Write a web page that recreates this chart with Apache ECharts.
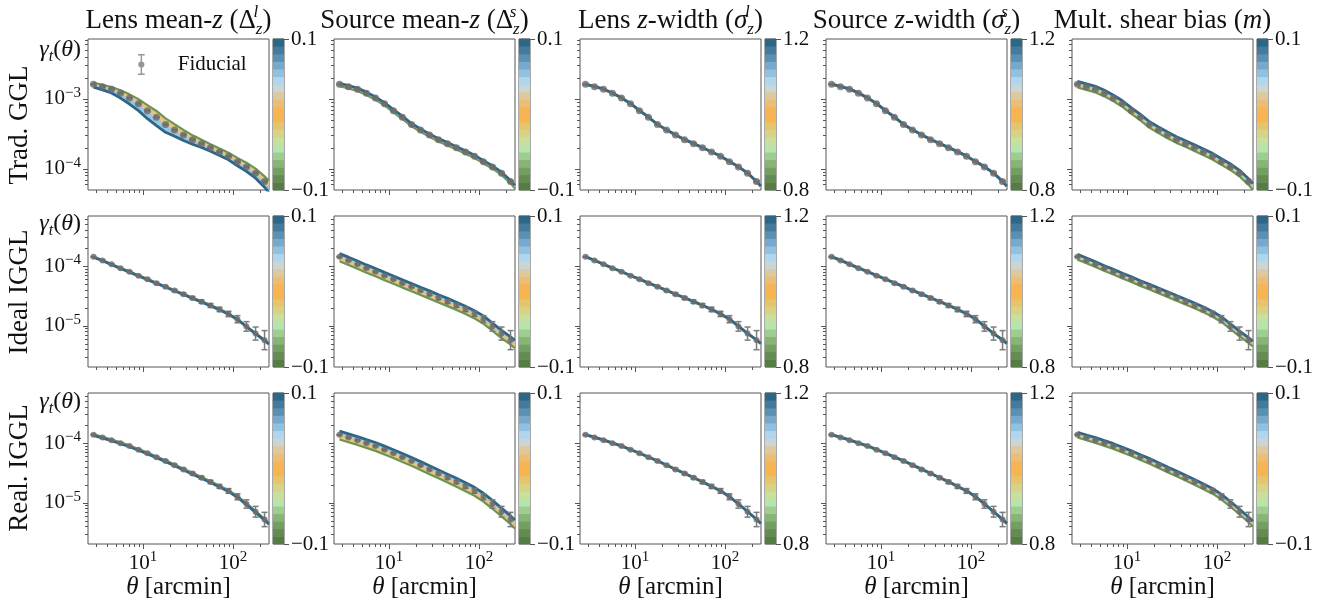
<!DOCTYPE html>
<html>
<head>
<meta charset="utf-8">
<script src="https://cdn.jsdelivr.net/npm/echarts@6/dist/echarts.min.js"></script>
<style>
  html, body { margin: 0; padding: 0; background: #fff; }
  #chart { width: 1332px; height: 603px; }
</style>
</head>
<body>
<div id="chart"></div>
<script>
// ---- data ----
// bin centres of the fiducial data vector [arcmin]
const thetaBins = [2.82, 3.55, 4.47, 5.62, 7.08, 8.91, 11.2, 14.1, 17.8, 22.4, 28.2, 35.5, 44.7, 56.2, 70.8, 89.1, 112, 141, 178, 224];
// model curves are drawn on the bins plus the outer edge
const thetaModel = thetaBins.concat([250]);

// fiducial gamma_t per row (20 bins + value at 250 arcmin)
const fidTradGGL = [1.62e-3, 1.50e-3, 1.38e-3, 1.21e-3, 1.03e-3, 8.57e-4, 6.81e-4, 5.48e-4, 4.30e-4, 3.61e-4,
  3.06e-4, 2.62e-4, 2.30e-4, 2.01e-4, 1.75e-4, 1.52e-4, 1.27e-4, 1.07e-4, 8.69e-5, 6.59e-5, 5.62e-5];
const fidIdealIGGL = [1.43e-4, 1.245e-4, 1.072e-4, 9.23e-5, 8.04e-5, 6.92e-5, 6.03e-5, 5.19e-5, 4.52e-5, 3.89e-5,
  3.39e-5, 2.92e-5, 2.54e-5, 2.19e-5, 1.88e-5, 1.58e-5, 1.29e-5, 9.77e-6, 7.41e-6, 5.75e-6, 5.01e-6];
const fidRealIGGL = [1.38e-4, 1.245e-4, 1.122e-4, 1.00e-4, 8.91e-5, 7.76e-5, 6.76e-5, 5.82e-5, 5.01e-5, 4.27e-5,
  3.63e-5, 3.09e-5, 2.63e-5, 2.24e-5, 1.88e-5, 1.58e-5, 1.26e-5, 9.55e-6, 7.08e-6, 5.25e-6, 4.47e-6];

// error bar half widths [dex]
const errTradGGL = [0.004, 0.004, 0.004, 0.004, 0.004, 0.005, 0.005, 0.005, 0.005, 0.005,
  0.006, 0.006, 0.006, 0.006, 0.007, 0.007, 0.008, 0.009, 0.010, 0.012];
const errIdealIGGL = [0.006, 0.007, 0.008, 0.009, 0.010, 0.011, 0.012, 0.014, 0.016, 0.018,
  0.021, 0.024, 0.028, 0.032, 0.037, 0.045, 0.060, 0.080, 0.110, 0.160];
const errRealIGGL = [0.005, 0.006, 0.007, 0.008, 0.009, 0.010, 0.011, 0.012, 0.014, 0.016,
  0.018, 0.020, 0.023, 0.027, 0.032, 0.040, 0.050, 0.070, 0.090, 0.120];

// log10 shift of the top-of-colorbar (blue) and bottom-of-colorbar (green) curves vs fiducial
const lensMeanGGLhi = [-0.040, -0.045, -0.055, -0.070, -0.085, -0.100, -0.115, -0.120, -0.110, -0.090,
  -0.078, -0.066, -0.056, -0.050, -0.050, -0.052, -0.058, -0.065, -0.072, -0.080, -0.085];
const lensMeanGGLlo = [0.020, 0.025, 0.032, 0.042, 0.053, 0.065, 0.080, 0.090, 0.090, 0.082,
  0.072, 0.062, 0.054, 0.050, 0.049, 0.050, 0.054, 0.060, 0.066, 0.075, 0.082];
const shiftHi = [
  [lensMeanGGLhi, 0.015, 0.004, 0.005, 0.041],
  [-0.006, 0.055, 0.004, 0.005, 0.041],
  [-0.010, 0.060, 0.004, 0.005, 0.041]
];
const shiftLo = [
  [lensMeanGGLlo, -0.025, -0.004, -0.005, -0.046],
  [0.006, -0.075, -0.004, -0.005, -0.046],
  [0.012, -0.080, -0.004, -0.005, -0.046]
];

const panelTitles = [
  'Lens mean-{it|z} ({rm|Δ}{sup|l}{sub|z})',
  'Source mean-{it|z} ({rm|Δ}{sup|s}{sub|z})',
  'Lens {it|z}-width ({it|σ}{sup|l}{sub|z})',
  'Source {it|z}-width ({it|σ}{sup|s}{sub|z})',
  'Mult. shear bias ({it|m})'
];
const rowLabels = ['Trad. GGL', 'Ideal IGGL', 'Real. IGGL'];
const cbarRanges = [[-0.1, 0.1], [-0.1, 0.1], [0.8, 1.2], [0.8, 1.2], [-0.1, 0.1]];
// colorbar levels, bottom to top
const cbarColors = ['#557c43', '#628c50', '#73a060', '#86b574', '#9dce8f', '#b5e5ab', '#c8e09c', '#d8d384',
  '#e6c46c', '#f5b54f', '#f8b353', '#ecbd74', '#dfc89e', '#c9d6d6', '#aed6f0', '#91c1e1', '#75a9ce',
  '#5a90b4', '#427b9d', '#2c6788'];

const xMajor = [10, 100];
const xMinor = [3, 4, 5, 6, 7, 8, 9, 20, 30, 40, 50, 60, 70, 80, 90, 200];
const yLimits = [[5.0e-5, 7.2e-3], [2.04e-6, 6.92e-4], [2.04e-6, 6.92e-4]];
const yMajor = [[1e-4, 1e-3], [1e-5, 1e-4], [1e-5, 1e-4]];
const yMinor = [
  [6e-5, 7e-5, 8e-5, 9e-5, 2e-4, 3e-4, 4e-4, 5e-4, 6e-4, 7e-4, 8e-4, 9e-4, 2e-3, 3e-3, 4e-3, 5e-3, 6e-3, 7e-3],
  [3e-6, 4e-6, 5e-6, 6e-6, 7e-6, 8e-6, 9e-6, 2e-5, 3e-5, 4e-5, 5e-5, 6e-5, 7e-5, 8e-5, 9e-5, 2e-4, 3e-4, 4e-4, 5e-4, 6e-4],
  [3e-6, 4e-6, 5e-6, 6e-6, 7e-6, 8e-6, 9e-6, 2e-5, 3e-5, 4e-5, 5e-5, 6e-5, 7e-5, 8e-5, 9e-5, 2e-4, 3e-4, 4e-4, 5e-4, 6e-4]
];

// ---- layout ----
const SERIF = "'Liberation Serif', 'DejaVu Serif', serif";
const INK = '#111';
const SPINE = '#555';
const colLeft = [88, 334, 580, 826, 1072];
const rowTop = [39, 216, 393];
const panelW = 181, panelH = 151;
const cbarOffset = 185, cbarW = 11;
const gammaLabelY = [50, 224, 402];

const fidRows = [fidTradGGL, fidIdealIGGL, fidRealIGGL];
const errRows = [errTradGGL, errIdealIGGL, errRealIGGL];
const lg = Math.log10;

const powRich = {
  b: { fontFamily: SERIF, fontSize: 21, color: INK, lineHeight: 27 },
  s: { fontFamily: SERIF, fontSize: 15, color: INK, lineHeight: 15, verticalAlign: 'top' }
};
function powLabel(v) {
  const e = Math.round(v);
  return '{b|10}{s|' + (e < 0 ? '\u2212' + (-e) : e) + '}';
}
function cbarLabel(v) {
  return (v < 0 ? '\u2212' : '') + Math.abs(v);
}

function shifted(fid, s) {
  return thetaModel.map((t, i) => [lg(t), lg(fid[i]) + (Array.isArray(s) ? s[i] : s)]);
}

function bandSeries(ax, a, b, color) {
  return {
    type: 'custom', xAxisIndex: ax, yAxisIndex: ax, silent: true, clip: true, z: 1,
    data: a.map((p, i) => [p[0], p[1], b[i][1]]),
    renderItem: function (params, api) {
      if (params.dataIndex !== 0) return null;
      const up = a.map(p => api.coord(p));
      const dn = b.map(p => api.coord(p)).reverse();
      return { type: 'polygon', shape: { points: up.concat(dn) }, style: { fill: color } };
    }
  };
}

function lineSeries(ax, data, color, width, z) {
  return {
    type: 'line', xAxisIndex: ax, yAxisIndex: ax, data: data, symbol: 'none', showSymbol: false,
    lineStyle: { color: color, width: width }, silent: true, clip: true, z: z
  };
}

const grid = [], xAxis = [], yAxis = [], series = [];

for (let r = 0; r < 3; r++) {
  for (let c = 0; c < 5; c++) {
    const p = r * 5 + c;
    const gi = 2 * p, ax = 3 * p;
    const left = colLeft[c], top = rowTop[r];
    const yMin = lg(yLimits[r][0]), yMax = lg(yLimits[r][1]);
    const xMin = lg(2.45), xMax = lg(251);
    const rng = cbarRanges[c];

    grid.push({ left: left, top: top, width: panelW, height: panelH, show: true,
      borderColor: SPINE, borderWidth: 1, outerBoundsMode: 'none' });
    grid.push({ left: left + cbarOffset, top: top, width: cbarW, height: panelH, show: true,
      borderColor: SPINE, borderWidth: 1, outerBoundsMode: 'none' });

    // x axes: major (with labels on last row), minor, colorbar
    xAxis.push({
      type: 'value', gridIndex: gi, min: xMin, max: xMax, position: 'bottom',
      axisLine: { show: false, onZero: false }, splitLine: { show: false },
      axisTick: { customValues: xMajor.map(lg), length: 5, lineStyle: { color: SPINE, width: 1 } },
      axisLabel: { show: r === 2, customValues: xMajor.map(lg), formatter: powLabel, rich: powRich, margin: 6 },
      name: r === 2 ? '{i|θ} [arcmin]' : '', nameLocation: 'middle', nameGap: 30,
      nameTextStyle: { fontFamily: SERIF, fontSize: 25, color: INK,
        rich: { i: { fontFamily: SERIF, fontSize: 25, fontStyle: 'italic', color: INK } } }
    });
    xAxis.push({
      type: 'value', gridIndex: gi, min: xMin, max: xMax, position: 'bottom',
      axisLine: { show: false, onZero: false }, splitLine: { show: false }, axisLabel: { show: false },
      axisTick: { customValues: xMinor.map(lg), length: 3, lineStyle: { color: SPINE, width: 1 } }
    });
    xAxis.push({ type: 'value', gridIndex: gi + 1, min: 0, max: 1, show: false });

    yAxis.push({
      type: 'value', gridIndex: gi, min: yMin, max: yMax, position: 'left',
      axisLine: { show: false, onZero: false }, splitLine: { show: false },
      axisTick: { customValues: yMajor[r].map(lg), length: 5, lineStyle: { color: SPINE, width: 1 } },
      axisLabel: { show: c === 0, customValues: yMajor[r].map(lg), formatter: powLabel, rich: powRich, margin: 7 }
    });
    yAxis.push({
      type: 'value', gridIndex: gi, min: yMin, max: yMax, position: 'left',
      axisLine: { show: false, onZero: false }, splitLine: { show: false }, axisLabel: { show: false },
      axisTick: { customValues: yMinor[r].map(lg), length: 3, lineStyle: { color: SPINE, width: 1 } }
    });
    yAxis.push({
      type: 'value', gridIndex: gi + 1, min: rng[0], max: rng[1], position: 'right',
      axisLine: { show: false, onZero: false }, splitLine: { show: false },
      axisTick: { customValues: rng, length: 5, lineStyle: { color: SPINE, width: 1 } },
      axisLabel: { customValues: rng, formatter: cbarLabel, margin: 7,
        fontFamily: SERIF, fontSize: 21, color: INK }
    });

    // curves
    const fid = fidRows[r], err = errRows[r];
    const fidCurve = shifted(fid, 0);
    const hiCurve = shifted(fid, shiftHi[r][c]);
    const loCurve = shifted(fid, shiftLo[r][c]);

    series.push(bandSeries(ax, loCurve, fidCurve, '#ebc47c'));
    series.push(bandSeries(ax, fidCurve, hiCurve, '#98c5e3'));
    series.push(lineSeries(ax, loCurve, '#6b9652', 2.2, 2));
    series.push(lineSeries(ax, fidCurve, '#cdc6a6', 1.6, 3));
    series.push(lineSeries(ax, hiCurve, '#2c6788', 2.8, 4));

    series.push({
      type: 'custom', xAxisIndex: ax, yAxisIndex: ax, silent: true, z: 5,
      data: thetaBins.map((t, i) => [lg(t), lg(fid[i]) - err[i], lg(fid[i]) + err[i]]),
      encode: { x: 0, y: [1, 2] },
      renderItem: function (params, api) {
        const x = api.value(0);
        const a = api.coord([x, api.value(2)]), b = api.coord([x, api.value(1)]);
        const st = { stroke: '#7c7c7c', lineWidth: 1.5 };
        return { type: 'group', children: [
          { type: 'line', shape: { x1: a[0], y1: a[1], x2: b[0], y2: b[1] }, style: st },
          { type: 'line', shape: { x1: a[0] - 3, y1: a[1], x2: a[0] + 3, y2: a[1] }, style: st },
          { type: 'line', shape: { x1: b[0] - 3, y1: b[1], x2: b[0] + 3, y2: b[1] }, style: st }
        ] };
      }
    });

    series.push({
      type: 'scatter', name: 'Fiducial', xAxisIndex: ax, yAxisIndex: ax, silent: true, z: 6,
      symbol: 'circle', symbolSize: r === 0 ? 7 : 6,
      itemStyle: { color: '#6a6a6a' },
      data: thetaBins.map((t, i) => [lg(t), lg(fid[i])])
    });

    // colorbar
    series.push({
      type: 'custom', xAxisIndex: ax + 2, yAxisIndex: ax + 2, silent: true,
      data: cbarColors.map((col, i) => [0, i]),
      renderItem: function (params, api) {
        const i = params.dataIndex, n = cbarColors.length;
        const lo = rng[0] + (rng[1] - rng[0]) * i / n;
        const hi = rng[0] + (rng[1] - rng[0]) * (i + 1) / n;
        const p0 = api.coord([0, hi]), p1 = api.coord([1, lo]);
        return { type: 'rect',
          shape: { x: p0[0], y: p0[1] - 0.3, width: p1[0] - p0[0], height: p1[1] - p0[1] + 0.6 },
          style: { fill: cbarColors[i] } };
      }
    });
  }
}

// free text: column titles, row labels, gamma_t labels
const titleRich = {
  it: { fontFamily: SERIF, fontSize: 27, fontStyle: 'italic', fill: INK, lineHeight: 34 },
  rm: { fontFamily: SERIF, fontSize: 27, fill: INK, lineHeight: 34 },
  sup: { fontFamily: SERIF, fontSize: 17, fontStyle: 'italic', fill: INK, lineHeight: 18, verticalAlign: 'top', width: 0 },
  sub: { fontFamily: SERIF, fontSize: 17, fontStyle: 'italic', fill: INK, lineHeight: 18, verticalAlign: 'bottom' }
};
const graphic = [];
panelTitles.forEach((t, c) => {
  graphic.push({ type: 'text', x: colLeft[c] + panelW / 2, y: 21, silent: true,
    style: { text: t, rich: titleRich, fontFamily: SERIF, fontSize: 27, lineHeight: 34, fill: INK,
      align: 'center', verticalAlign: 'middle' } });
});
const rowLabelY = [125, 292, 468];
rowLabels.forEach((t, r) => {
  graphic.push({ type: 'text', x: 20, y: rowLabelY[r], rotation: Math.PI / 2, silent: true,
    style: { text: t, fontFamily: SERIF, fontSize: 27, fill: INK, align: 'center', verticalAlign: 'middle' } });
  graphic.push({ type: 'text', x: 81, y: gammaLabelY[r], silent: true,
    style: { text: '{it|γ}{sub|t}({it|θ})', fontFamily: SERIF, fontSize: 24, lineHeight: 29, fill: INK,
      align: 'right', verticalAlign: 'middle',
      rich: {
        it: { fontFamily: SERIF, fontSize: 24, fontStyle: 'italic', fill: INK, lineHeight: 29 },
        sub: { fontFamily: SERIF, fontSize: 16, fontStyle: 'italic', fill: INK, lineHeight: 16, verticalAlign: 'bottom' }
      } } });
});

const chart = echarts.init(document.getElementById('chart'), null, { renderer: 'canvas' });
chart.setOption({
  animation: false,
  backgroundColor: '#fff',
  textStyle: { fontFamily: SERIF, color: INK },
  grid: grid,
  xAxis: xAxis,
  yAxis: yAxis,
  legend: {
    data: [{ name: 'Fiducial',
      icon: 'path://M0 0H14V3H8.5V41H14V44H0V41H5.5V3H0Z M7 15.5A6.5 6.5 0 1 1 7 28.5A6.5 6.5 0 1 1 7 15.5Z' }],
    left: 138, top: 54, padding: 0, itemWidth: 35, itemHeight: 21, selectedMode: false,
    itemStyle: { color: '#7c7c7c' },
    textStyle: { fontFamily: SERIF, fontSize: 21, color: INK, padding: [0, 0, 0, 14] }
  },
  graphic: graphic,
  series: series
});
</script>
</body>
</html>
